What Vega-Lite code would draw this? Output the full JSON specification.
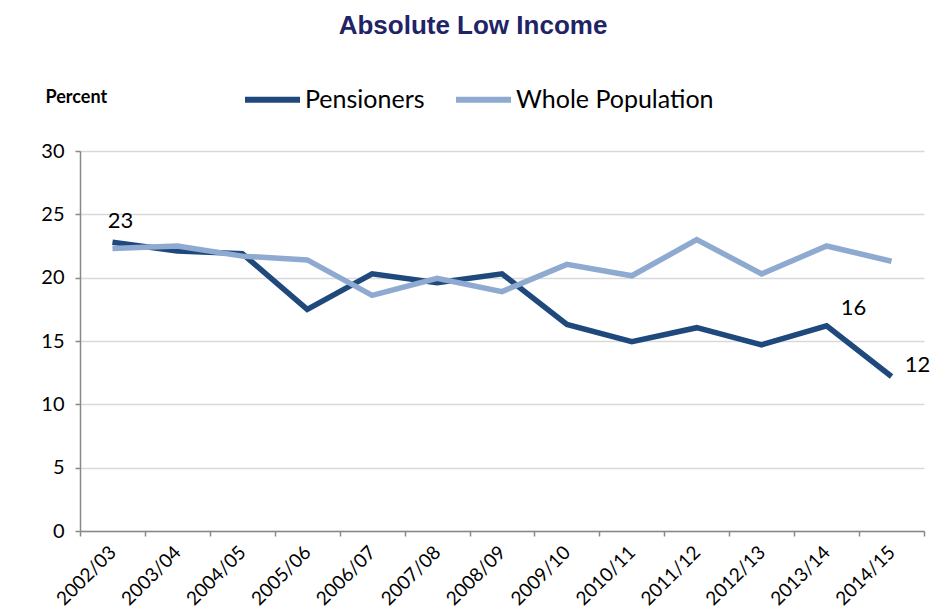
{
  "$schema": "https://vega.github.io/schema/vega-lite/v6.json",
  "width": 844,
  "height": 380,
  "autosize": {"type": "none"},
  "padding": {"left": 80, "top": 151, "right": 9, "bottom": 80},
  "background": "white",
  "title": {
    "text": "Absolute Low Income",
    "font": "Liberation Sans",
    "fontSize": 26,
    "fontWeight": "bold",
    "color": "#1f2466",
    "anchor": "middle",
    "baseline": "alphabetic",
    "dx": -29,
    "offset": 9
  },
  "config": {
    "view": {"stroke": null},
    "font": "Lato"
  },
  "data": {
    "values": [
      {"year": "2002/03", "series": "Pensioners", "value": 22.8},
      {"year": "2003/04", "series": "Pensioners", "value": 22.1},
      {"year": "2004/05", "series": "Pensioners", "value": 21.9},
      {"year": "2005/06", "series": "Pensioners", "value": 17.5},
      {"year": "2006/07", "series": "Pensioners", "value": 20.3},
      {"year": "2007/08", "series": "Pensioners", "value": 19.6},
      {"year": "2008/09", "series": "Pensioners", "value": 20.3},
      {"year": "2009/10", "series": "Pensioners", "value": 16.3},
      {"year": "2010/11", "series": "Pensioners", "value": 14.95},
      {"year": "2011/12", "series": "Pensioners", "value": 16.05},
      {"year": "2012/13", "series": "Pensioners", "value": 14.7},
      {"year": "2013/14", "series": "Pensioners", "value": 16.2},
      {"year": "2014/15", "series": "Pensioners", "value": 12.2},
      {"year": "2002/03", "series": "Whole Population", "value": 22.3},
      {"year": "2003/04", "series": "Whole Population", "value": 22.5},
      {"year": "2004/05", "series": "Whole Population", "value": 21.7},
      {"year": "2005/06", "series": "Whole Population", "value": 21.4},
      {"year": "2006/07", "series": "Whole Population", "value": 18.6},
      {"year": "2007/08", "series": "Whole Population", "value": 19.95},
      {"year": "2008/09", "series": "Whole Population", "value": 18.9},
      {"year": "2009/10", "series": "Whole Population", "value": 21.05},
      {"year": "2010/11", "series": "Whole Population", "value": 20.15},
      {"year": "2011/12", "series": "Whole Population", "value": 23.0},
      {"year": "2012/13", "series": "Whole Population", "value": 20.3},
      {"year": "2013/14", "series": "Whole Population", "value": 22.5},
      {"year": "2014/15", "series": "Whole Population", "value": 21.3}
    ]
  },
  "encoding": {
    "x": {
      "field": "year",
      "type": "ordinal",
      "scale": {"type": "band", "paddingInner": 0, "paddingOuter": 0},
      "axis": {
        "title": null,
        "tickBand": "extent",
        "labelAngle": -45,
        "labelAlign": "right",
        "labelBaseline": "middle",
        "labelFont": "Lato",
        "labelFontSize": 19,
        "labelColor": "#000000",
        "labelPadding": 13,
        "labelOverlap": false,
        "domainColor": "#888888",
        "domainWidth": 1.5,
        "tickColor": "#888888",
        "tickWidth": 1.5,
        "tickSize": 5,
        "grid": false
      }
    },
    "y": {
      "field": "value",
      "type": "quantitative",
      "scale": {"domain": [0, 30], "nice": false},
      "axis": {
        "values": [0, 5, 10, 15, 20, 25, 30],
        "title": "Percent",
        "titleAngle": 0,
        "titleAlign": "left",
        "titleBaseline": "middle",
        "titleX": -35,
        "titleY": -54,
        "titleFont": "Lato",
        "titleFontSize": 18,
        "titleFontWeight": "bold",
        "titleColor": "#000000",
        "labelFont": "Lato",
        "labelFontSize": 20,
        "labelColor": "#000000",
        "labelPadding": 11,
        "domainColor": "#888888",
        "domainWidth": 1.5,
        "tickColor": "#888888",
        "tickWidth": 1.5,
        "tickSize": 5,
        "gridColor": "#d9d9d9",
        "gridWidth": 1.5
      }
    }
  },
  "layer": [
    {
      "mark": {"type": "line", "strokeWidth": 5.5, "strokeJoin": "miter"},
      "encoding": {
        "color": {
          "field": "series",
          "type": "nominal",
          "scale": {"domain": ["Pensioners", "Whole Population"], "range": ["#1f497d", "#8eaad0"]},
          "legend": {
            "title": null,
            "orient": "none",
            "direction": "horizontal",
            "legendX": 162,
            "legendY": -82,
            "symbolType": "stroke",
            "symbolSize": 3025,
            "symbolStrokeWidth": 6,
            "labelFont": "Lato",
            "labelFontSize": 25,
            "labelColor": "#000000",
            "labelOffset": 2,
            "labelLimit": 300,
            "columnPadding": 19
          }
        }
      }
    },
    {
      "transform": [{"filter": "datum.series == 'Pensioners' && datum.year == '2002/03'"}],
      "mark": {"type": "text", "fontSize": 22, "font": "Lato", "dx": 8, "dy": -21, "color": "#000000"},
      "encoding": {"text": {"field": "value", "type": "quantitative", "format": ".0f"}}
    },
    {
      "transform": [{"filter": "datum.series == 'Pensioners' && datum.year == '2013/14'"}],
      "mark": {"type": "text", "fontSize": 22, "font": "Lato", "dx": 27, "dy": -18, "color": "#000000"},
      "encoding": {"text": {"field": "value", "type": "quantitative", "format": ".0f"}}
    },
    {
      "transform": [{"filter": "datum.series == 'Pensioners' && datum.year == '2014/15'"}],
      "mark": {"type": "text", "fontSize": 22, "font": "Lato", "dx": 26, "dy": -11, "color": "#000000"},
      "encoding": {"text": {"field": "value", "type": "quantitative", "format": ".0f"}}
    }
  ]
}
